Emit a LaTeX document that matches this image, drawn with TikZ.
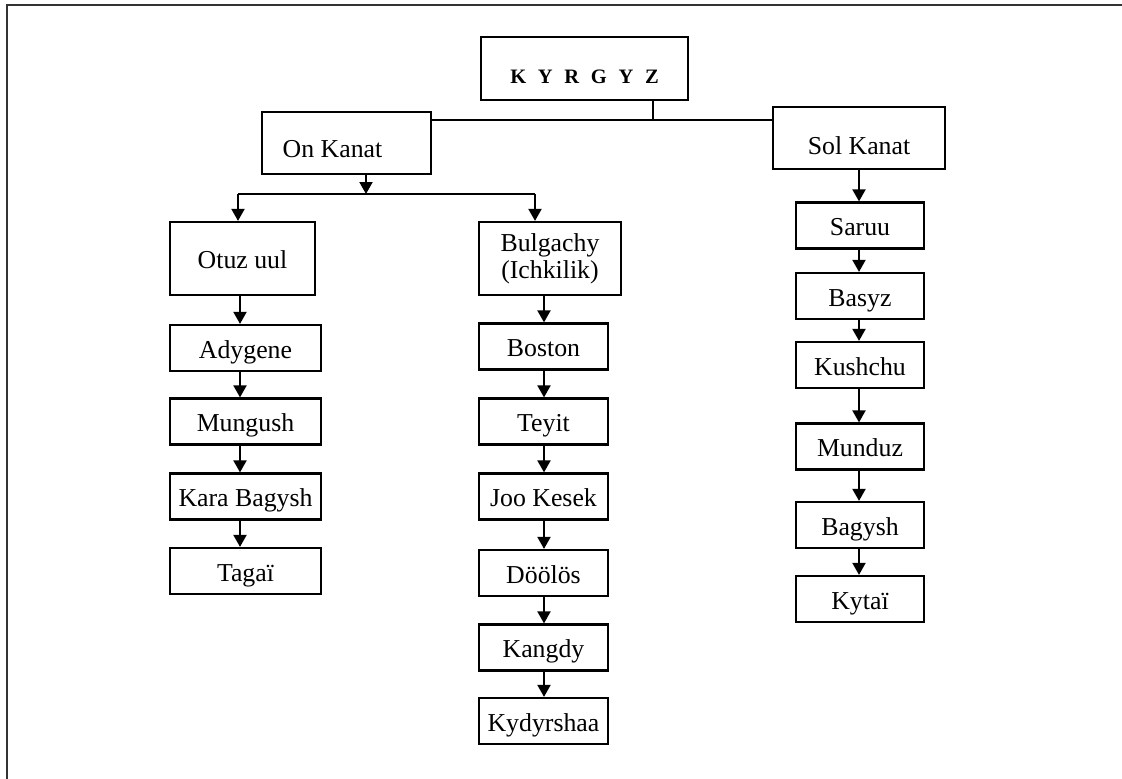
\documentclass[tikz,border=0pt]{standalone}
\usepackage{fontspec}
\setmainfont{Liberation Serif}
\newfontfamily\kyrfont[LetterSpace=57]{Liberation Serif}
\usetikzlibrary{arrows.meta}
\tikzset{
  box/.style={draw, line width=2.2pt, inner sep=0pt, minimum height=46pt,
    font=\fontsize{25.8}{28}\selectfont, text height=24.5pt, text depth=4pt},
  lbox/.style={box, minimum width=151pt},
  mbox/.style={box, minimum width=129pt},
  rbox/.style={box, minimum width=128pt},
  conn/.style={line width=2pt},
  arr/.style={conn, -{Triangle[width=13pt,length=12pt]}},
}
\begin{document}
\begin{tikzpicture}[x=1pt,y=-1pt]
\useasboundingbox (0,0) rectangle (1122,779);
\draw[line width=1.6pt, black!80] (7,779) -- (7,5) -- (1122,5);

% top level
\node[box, minimum width=207pt, minimum height=63pt, font=\kyrfont\bfseries\fontsize{20.5}{24}\selectfont, text height=34pt, text depth=3.4pt] (kyr) at (584.5,68.5) {KYRGYZ};
\node[box, minimum width=169pt, minimum height=62pt, text height=32.6pt] (onk) at (346.5,143) {On Kanat\hspace*{28pt}};
\node[box, minimum width=172pt, minimum height=62pt, text height=36.6pt] (sol) at (859,138) {Sol Kanat};

% second level
\node[box, minimum width=145pt, minimum height=73pt] (otuz) at (242.5,258.5) {Otuz uul};
\node[draw, line width=2.2pt, inner sep=0pt, minimum width=142pt, minimum height=73pt, align=center, font=\fontsize{25.8}{27}\selectfont] (bul) at (550,258.5) {Bulgachy\\(Ichkilik)};

% left column
\node[lbox] (ady)  at (245.5,348)   {Adygene};
\node[lbox] (mun)  at (245.5,421.5) {Mungush};
\node[lbox] (kara) at (245.5,496.5) {Kara Bagysh};
\node[lbox] (tag)  at (245.5,571)   {Tagaï};

% middle column
\node[mbox] (bos) at (543.5,346.5) {Boston};
\node[mbox] (tey) at (543.5,421.5) {Teyit};
\node[mbox] (joo) at (543.5,496.5) {Joo Kesek};
\node[mbox] (doo) at (543.5,573)   {Döölös};
\node[mbox] (kan) at (543.5,647.5) {Kangdy};
\node[mbox] (kyd) at (543.5,721)   {Kydyrshaa};

% right column
\node[rbox] (sar)  at (860,225.5) {Saruu};
\node[rbox] (bas)  at (860,296)   {Basyz};
\node[rbox] (kus)  at (860,365)   {Kushchu};
\node[rbox] (mund) at (860,446.5) {Munduz};
\node[rbox] (bag)  at (860,525)   {Bagysh};
\node[rbox] (kyt)  at (860,599)   {Kytaï};

% connectors
\coordinate (j1) at (653,120);
\draw[conn] (kyr.south -| j1) -- (j1);
\draw[conn] (onk.east |- j1) -- (sol.west |- j1);

\coordinate (j2) at (366,194);
\coordinate (j2l) at (238,194);
\coordinate (j2r) at (535,194);
\draw[arr] (onk.south -| j2) -- (j2);
\draw[conn] (j2l) -- (j2r);
\draw[arr] (j2l) -- (otuz.north -| j2l);
\draw[arr] (j2r) -- (bul.north -| j2r);

\coordinate (la) at (240,0);
\draw[arr] (otuz.south -| la) -- (ady.north -| la);
\draw[arr] (ady.south -| la) -- (mun.north -| la);
\draw[arr] (mun.south -| la) -- (kara.north -| la);
\draw[arr] (kara.south -| la) -- (tag.north -| la);

\coordinate (ma) at (544,0);
\draw[arr] (bul.south -| ma) -- (bos.north -| ma);
\draw[arr] (bos.south -| ma) -- (tey.north -| ma);
\draw[arr] (tey.south -| ma) -- (joo.north -| ma);
\draw[arr] (joo.south -| ma) -- (doo.north -| ma);
\draw[arr] (doo.south -| ma) -- (kan.north -| ma);
\draw[arr] (kan.south -| ma) -- (kyd.north -| ma);

\coordinate (ra) at (859,0);
\draw[arr] (sol.south -| ra) -- (sar.north -| ra);
\draw[arr] (sar.south -| ra) -- (bas.north -| ra);
\draw[arr] (bas.south -| ra) -- (kus.north -| ra);
\draw[arr] (kus.south -| ra) -- (mund.north -| ra);
\draw[arr] (mund.south -| ra) -- (bag.north -| ra);
\draw[arr] (bag.south -| ra) -- (kyt.north -| ra);
\end{tikzpicture}
\end{document}
